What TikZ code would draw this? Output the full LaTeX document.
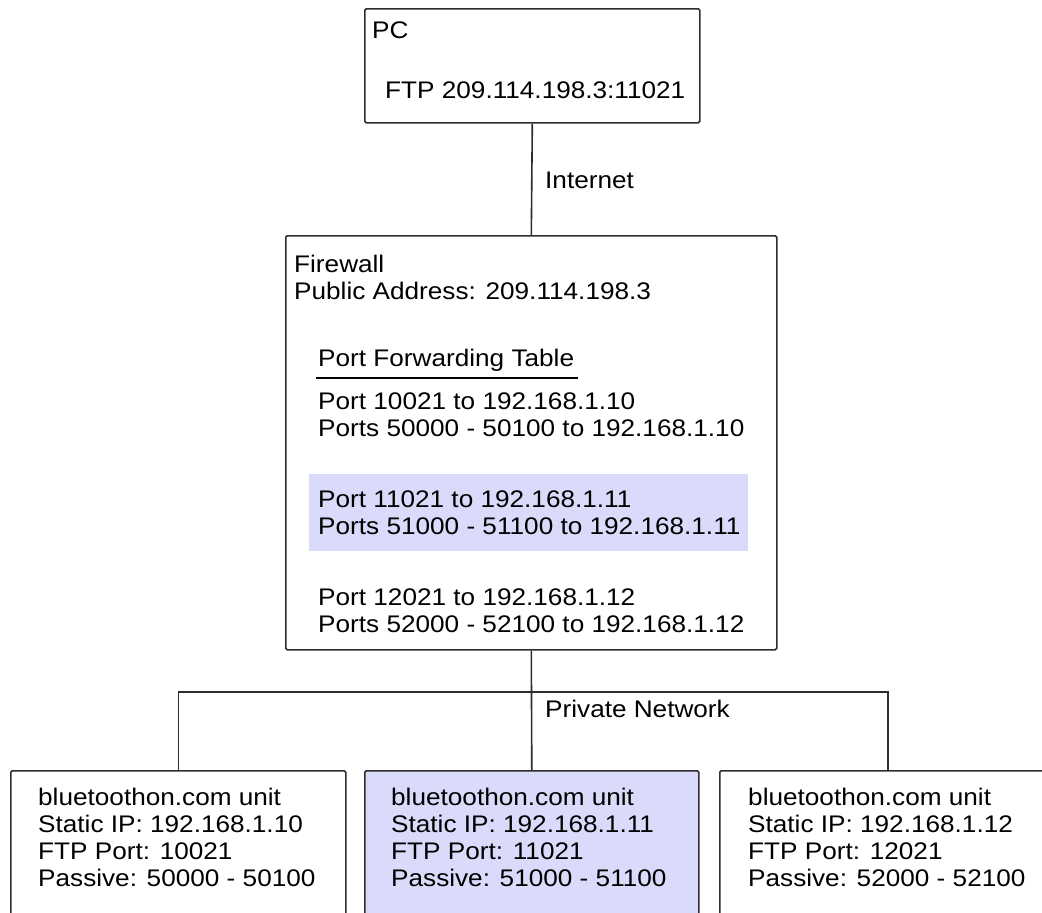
\documentclass[tikz,border=0pt]{standalone}
\usepackage{fontspec}
\setmainfont{Liberation Sans}[FakeStretch=1.09]
\definecolor{linegray}{RGB}{45,45,45}
\definecolor{hlblue}{RGB}{218,218,250}
\newcommand{\textlines}[1]{\begin{tabular}[t]{@{}l@{}}#1\end{tabular}}
\tikzset{
  box/.style={draw=linegray, line width=1.6pt, rounded corners=1.5pt, inner sep=0pt, anchor=north west},
  txt/.style={anchor=base west, inner sep=0pt},
  link/.style={draw=linegray, line width=1.6pt}
}
\begin{document}
\begin{tikzpicture}[x=1pt, y=-1pt, font=\fontsize{24}{27}\selectfont]
    \useasboundingbox (0,0) rectangle (1042,913);
    \clip (0,0) rectangle (1042,913);

    \node[box, minimum width=335pt, minimum height=114pt] (pc) at (364,8) {};
    \node[box, minimum width=491pt, minimum height=414pt] (fw) at (285,235) {};
    \node[box, minimum width=335pt, minimum height=200pt] (unitA) at (10,770) {};
    \node[box, fill=hlblue, minimum width=334pt, minimum height=200pt] (unitB) at (364,770) {};
    \node[box, minimum width=336pt, minimum height=200pt] (unitC) at (719,770) {};
    \node[fill=hlblue, inner sep=0pt, anchor=north west, minimum width=439pt, minimum height=77pt] (hl) at (309,474) {};

    \coordinate (bus) at (531,692);
    \draw[link] (pc.south) -- (fw.north);
    \draw[link] (fw.south) -- (unitB.north);
    \draw[link] (unitA.north) |- (bus) -| (unitC.north);

    \node[txt] (pcname) at (372,38) {PC};
    \node[txt] (pcftp) at (385,98) {FTP 209.114.198.3:11021};
    \node[txt] (inet) at (545,188) {Internet};

    \node[txt] (fwname) at (294,272) {\textlines{Firewall\\Public Address: 209.114.198.3}};
    \node[txt] (hdr) at (318,366) {Port Forwarding Table};
    \draw[line width=2pt] ([shift={(-2,12)}]hdr.base west) -- ([shift={(4,12)}]hdr.base east);
    \node[txt] (fwdA) at (318,409) {\textlines{Port 10021 to 192.168.1.10\\Ports 50000 - 50100 to 192.168.1.10}};
    \node[txt] (fwdB) at (318,507) {\textlines{Port 11021 to 192.168.1.11\\Ports 51000 - 51100 to 192.168.1.11}};
    \node[txt] (fwdC) at (318,605) {\textlines{Port 12021 to 192.168.1.12\\Ports 52000 - 52100 to 192.168.1.12}};

    \node[txt] (priv) at (545,717) {Private Network};

    \node[txt] (infoA) at (38,805) {\textlines{bluetoothon.com unit\\Static IP: 192.168.1.10\\FTP Port: 10021\\Passive: 50000 - 50100}};
    \node[txt] (infoB) at (391,805) {\textlines{bluetoothon.com unit\\Static IP: 192.168.1.11\\FTP Port: 11021\\Passive: 51000 - 51100}};
    \node[txt] (infoC) at (748,805) {\textlines{bluetoothon.com unit\\Static IP: 192.168.1.12\\FTP Port: 12021\\Passive: 52000 - 52100}};
\end{tikzpicture}
\end{document}
